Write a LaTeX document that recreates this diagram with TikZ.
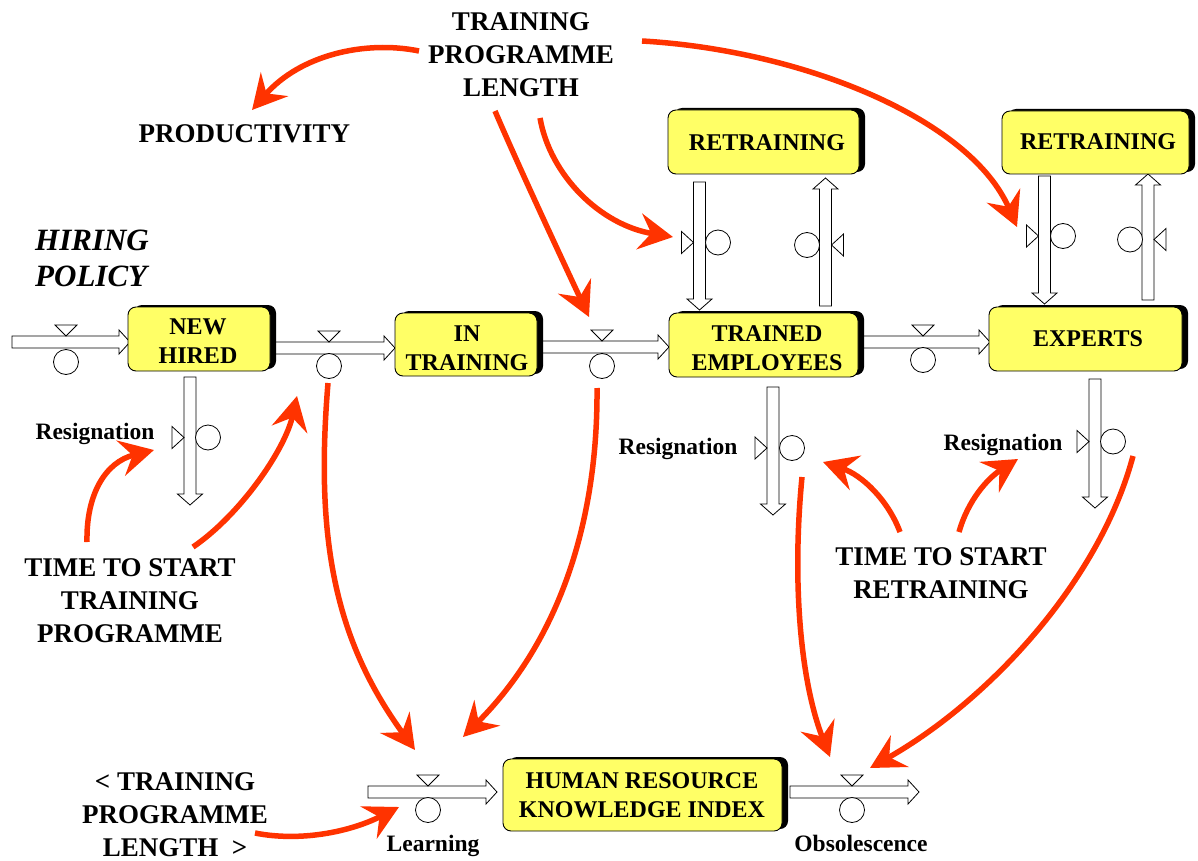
\documentclass[tikz,border=0pt]{standalone}
\usepackage{fontspec}
\setmainfont{Liberation Serif}
\usetikzlibrary{arrows.meta,shadows}
\definecolor{stockyellow}{RGB}{255,255,102}
\definecolor{linkred}{RGB}{255,51,0}
\tikzset{
  stock/.style={draw=black, line width=0.9pt, fill=stockyellow, rounded corners=8pt,
    inner sep=0pt,
    drop shadow={shadow xshift=6pt, shadow yshift=2pt, fill=black, opacity=1}},
  stocktext/.style={inner sep=0pt, align=center, font=\fontsize{24}{28.5}\selectfont\bfseries},
  pipe/.style={draw=black, line width=0.8pt, fill=white},
  valvetri/.style={draw=black, line width=0.8pt, fill=white},
  valvecirc/.style={circle, draw=black, line width=0.8pt, fill=white, minimum size=25pt, inner sep=0pt},
  link/.style={draw=linkred, line width=5.5pt, -{Stealth[length=34pt,width=36pt,inset=12pt]}},
  biglabel/.style={align=center, inner sep=0pt, font=\fontsize{27}{33}\selectfont\bfseries},
  smalllabel/.style={inner sep=0pt, anchor=base, font=\fontsize{23.5}{28}\selectfont\bfseries},
}
% horizontal pipe: x start, x tip, y centre
\newcommand{\hpipe}[3]{\draw[pipe] (#1,#3-6) -- (#2-11,#3-6) -- (#2-11,#3-12) -- (#2,#3) -- (#2-11,#3+12) -- (#2-11,#3+6) -- (#1,#3+6) -- cycle;}
% vertical pipe: x centre, y start, y tip, y of head base
\newcommand{\vpipe}[4]{\draw[pipe] (#1-6,#2) -- (#1-6,#4) -- (#1-12.5,#4) -- (#1,#3) -- (#1+12.5,#4) -- (#1+6,#4) -- (#1+6,#2) -- cycle;}
% valve on horizontal pipe: name, x, pipe y, circle y
\newcommand{\hvalve}[4]{\draw[valvetri] (#2-11,#3-17) -- (#2+11,#3-17) -- (#2,#3-6) -- cycle;
  \node[valvecirc] (#1) at (#2,#4) {};}
% valve on vertical pipe, triangle left: name, pipe x, y, circle x
\newcommand{\vvalveR}[4]{\draw[valvetri] (#2-18,#3-11) -- (#2-6,#3) -- (#2-18,#3+11) -- cycle;
  \node[valvecirc] (#1) at (#4,#3) {};}
% valve on vertical pipe, triangle right
\newcommand{\vvalveL}[4]{\draw[valvetri] (#2+18,#3-11) -- (#2+6,#3) -- (#2+18,#3+11) -- cycle;
  \node[valvecirc] (#1) at (#4,#3) {};}
\begin{document}
\begin{tikzpicture}[x=1pt,y=-1pt]
\useasboundingbox (0,0) rectangle (1198,861);

% ---------- pipes ----------
\hpipe{12}{130}{342}
\hpipe{268}{395}{348}
\hpipe{535}{669}{347}
\hpipe{856}{990}{342}
\hpipe{368}{497}{792}
\hpipe{790}{919}{792}
\vpipe{190}{377}{505}{494}
\vpipe{773}{387}{515}{504}
\vpipe{1095}{379}{508}{497}
\vpipe{699.5}{182}{310}{299}
\vpipe{825.5}{306}{178}{189}
\vpipe{1044.5}{176}{304}{293}
\vpipe{1148}{300}{174}{185}

% ---------- valves ----------
\hvalve{vhire}{66}{342}{362}
\hvalve{vstart}{329}{348}{366}
\hvalve{vgrad}{602}{347}{366}
\hvalve{vpromo}{923}{342}{360}
\hvalve{vlearn}{428}{792}{810}
\hvalve{vobs}{852}{792}{810}
\vvalveR{vresnh}{190}{437.5}{208}
\vvalveR{vreste}{773}{448}{792}
\vvalveR{vresex}{1095}{441.5}{1113}
\vvalveR{vrtin}{699.5}{242.5}{718}
\vvalveR{vrtinb}{1044.5}{236}{1063}
\vvalveL{vrtout}{825.5}{245}{807}
\vvalveL{vrtoutb}{1148}{239.5}{1130}

% ---------- stocks ----------
\node[stock, minimum width=142pt, minimum height=64pt] (nh) at (199,339) {};
\node[stock, minimum width=142pt, minimum height=63pt] (it) at (466,344.5) {};
\node[stock, minimum width=189pt, minimum height=64pt] (te) at (763.5,345) {};
\node[stock, minimum width=193pt, minimum height=64pt] (ex) at (1085.5,339) {};
\node[stock, minimum width=191pt, minimum height=64pt] (rt1) at (763.5,142) {};
\node[stock, minimum width=187pt, minimum height=63pt] (rt2) at (1095.5,142.5) {};
\node[stock, minimum width=279pt, minimum height=72pt] (hr) at (642.5,795) {};
\node[stocktext] (nhtext) at (198,341.25) {NEW\\HIRED};
\node[stocktext] (ittext) at (467,348.25) {IN\\TRAINING};
\node[stocktext] (tetext) at (767,348.25) {TRAINED\\EMPLOYEES};
\node[stocktext, anchor=base] (extext) at (1088,346) {EXPERTS};
\node[stocktext, anchor=base] (rt1text) at (767,151) {RETRAINING};
\node[stocktext, anchor=base] (rt2text) at (1098,150) {RETRAINING};
\node[stocktext] (hrtext) at (642,795.25) {HUMAN RESOURCE\\KNOWLEDGE INDEX};

% ---------- labels ----------
\node[biglabel] (tpl) at (521,55) {TRAINING\\PROGRAMME\\LENGTH};
\node[biglabel, anchor=base] (prod) at (244.5,143) {PRODUCTIVITY};
\node[inner sep=0pt, align=left, anchor=west, font=\fontsize{31}{36}\selectfont\bfseries\itshape] (hp) at (35,258.5) {HIRING\\POLICY};
\node[biglabel] (ttstp) at (130,600.5) {TIME TO START\\TRAINING\\PROGRAMME};
\node[biglabel] (tplb) at (175,815) {<\ TRAINING\\PROGRAMME\\LENGTH\ \ >};
\node[biglabel] (ttsr) at (941,573.5) {TIME TO START\\RETRAINING};
\node[smalllabel] (rnh) at (95,439) {Resignation};
\node[smalllabel] (rte) at (678,454) {Resignation};
\node[smalllabel] (rex) at (1003,450) {Resignation};
\node[smalllabel] (lrn) at (433,851) {Learning};
\node[smalllabel] (obs) at (861,851) {Obsolescence};

% ---------- link end points ----------
\coordinate (a1s) at (419,51);   \coordinate (a1e) at (252,110);
\coordinate (a2s) at (642,41);   \coordinate (a2e) at (1017,227);
\coordinate (a3s) at (495,111);  \coordinate (a3e) at (589,317);
\coordinate (a4s) at (540,118);  \coordinate (a4e) at (673,237);
\coordinate (a5s) at (87,542);   \coordinate (a5e) at (154,450);
\coordinate (a6s) at (193,547);  \coordinate (a6e) at (297,396);
\coordinate (a7s) at (328,383);  \coordinate (a7e) at (415,750);
\coordinate (a8s) at (597,388);  \coordinate (a8e) at (463,737);
\coordinate (a9s) at (255,833);  \coordinate (a9e) at (399,807);
\coordinate (a10s) at (802,477); \coordinate (a10e) at (830,757);
\coordinate (a11s) at (1133,456);\coordinate (a11e) at (870,768);
\coordinate (a12s) at (900,532); \coordinate (a12e) at (823,462);
\coordinate (a13s) at (959,532); \coordinate (a13e) at (1018,459);

% ---------- links ----------
\draw[link] (a1s) .. controls (365,40) and (300,55) .. (a1e);
\draw[link] (a2s) .. controls (800,50) and (970,118) .. (a2e);
\draw[link] (a3s) .. controls (518,165) and (560,255) .. (a3e);
\draw[link] (a4s) .. controls (550,175) and (600,225) .. (a4e);
\draw[link] (a5s) .. controls (86,495) and (105,462) .. (a5e);
\draw[link] (a6s) .. controls (240,515) and (285,450) .. (a6e);
\draw[link] (a7s) .. controls (315,540) and (335,640) .. (a7e);
\draw[link] (a8s) .. controls (598,520) and (560,640) .. (a8e);
\draw[link] (a9s) .. controls (300,842) and (350,832) .. (a9e);
\draw[link] (a10s) .. controls (792,580) and (800,680) .. (a10e);
\draw[link] (a11s) .. controls (1100,580) and (990,700) .. (a11e);
\draw[link] (a12s) .. controls (888,500) and (862,475) .. (a12e);
\draw[link] (a13s) .. controls (968,500) and (988,478) .. (a13e);
\end{tikzpicture}
\end{document}
